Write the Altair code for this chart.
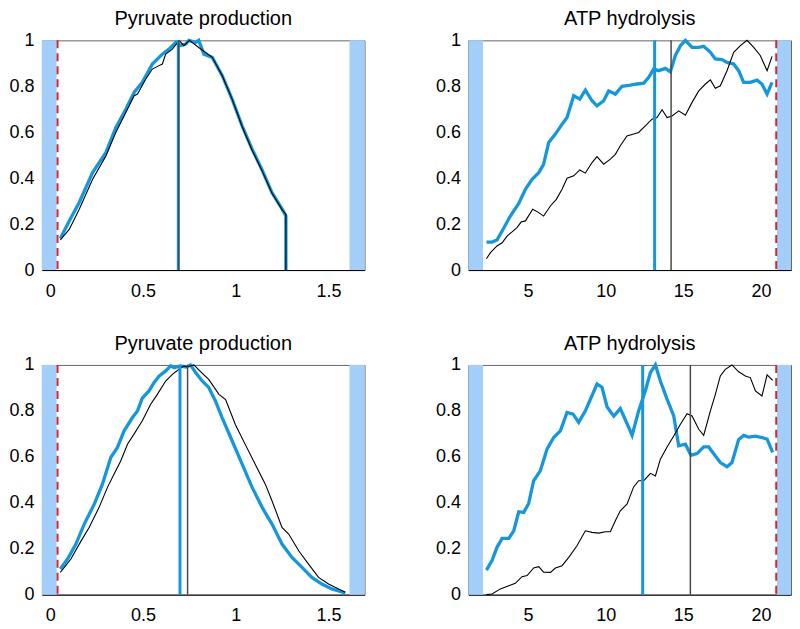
import altair as alt
import pandas as pd

FONT = "Liberation Sans"
BLUE = "#1697dc"
BAND = "#a3cef9"
RED = "#d9262c"
DARK = "#4a4a4a"

# ---------------- Panel data ----------------
# Top-left: Pyruvate production
p1_blue_x = [0.054, 0.102, 0.156, 0.228, 0.30, 0.353, 0.407, 0.452, 0.496, 0.55, 0.604, 0.64, 0.676,
             0.70, 0.73, 0.747, 0.783, 0.80, 0.828, 0.873, 0.927, 0.98, 1.034, 1.088, 1.14, 1.195,
             1.25, 1.27, 1.27]
p1_blue_y = [0.137, 0.214, 0.294, 0.424, 0.512, 0.62, 0.70, 0.773, 0.817, 0.897, 0.94, 0.962, 0.991,
             0.977, 0.984, 1.0, 0.991, 1.0, 0.94, 0.926, 0.846, 0.744, 0.628, 0.526, 0.439, 0.337,
             0.265, 0.235, 0.0]
p1_black_x = [0.054, 0.102, 0.156, 0.228, 0.30, 0.353, 0.416, 0.452, 0.47, 0.514, 0.55, 0.586, 0.604,
              0.622, 0.658, 0.694, 0.72, 0.75, 0.80, 0.836, 0.873, 0.927, 0.98, 1.034, 1.088, 1.14,
              1.195, 1.25, 1.27, 1.27]
p1_black_y = [0.131, 0.177, 0.265, 0.395, 0.497, 0.599, 0.70, 0.759, 0.766, 0.831, 0.875, 0.89, 0.897,
              0.94, 0.962, 1.0, 0.977, 1.0, 0.969, 0.948, 0.926, 0.846, 0.744, 0.625, 0.522, 0.435,
              0.335, 0.262, 0.243, 0.0]
p1_vblue = 0.69
p1_vblack = 0.692

# Top-right: ATP hydrolysis
p2_blue_x = [2.32, 2.68, 3.0, 3.33, 3.86, 4.40, 4.83, 5.26, 5.69, 6.0, 6.33, 6.76, 7.19, 7.51, 7.94,
             8.33, 8.69, 9.12, 9.44, 9.87, 10.19, 10.62, 11.05, 11.59, 12.02, 12.45, 12.77, 13.09,
             13.41, 13.84, 14.16, 14.48, 14.81, 15.13, 15.56, 15.99, 16.31, 16.74, 17.06, 17.49,
             17.81, 18.24, 18.56, 18.88, 19.31, 19.74, 20.06, 20.39, 20.71]
p2_blue_y = [0.122, 0.122, 0.131, 0.17, 0.235, 0.29, 0.352, 0.395, 0.424, 0.46, 0.555, 0.592, 0.635,
             0.664, 0.759, 0.744, 0.783, 0.737, 0.715, 0.737, 0.78, 0.766, 0.80, 0.805, 0.81, 0.814,
             0.839, 0.875, 0.868, 0.878, 0.863, 0.933, 0.977, 1.0, 0.969, 0.969, 0.974, 0.948, 0.919,
             0.916, 0.904, 0.897, 0.868, 0.817, 0.817, 0.827, 0.81, 0.766, 0.817]
p2_black_x = [2.32, 2.58, 3.0, 3.33, 3.65, 3.97, 4.29, 4.55, 4.83, 5.30, 5.69, 6.0, 6.44, 6.82, 7.19,
              7.51, 7.94, 8.33, 8.69, 9.12, 9.44, 9.87, 10.30, 10.62, 10.94, 11.37, 11.80, 12.12,
              12.55, 12.98, 13.30, 13.63, 13.95, 14.27, 14.70, 15.13, 15.56, 15.99, 16.42, 16.74,
              17.06, 17.38, 17.81, 18.24, 18.67, 19.10, 19.53, 19.96, 20.39, 20.71]
p2_black_y = [0.049, 0.076, 0.105, 0.119, 0.148, 0.166, 0.185, 0.209, 0.214, 0.265, 0.25, 0.235, 0.279,
              0.308, 0.352, 0.40, 0.41, 0.436, 0.422, 0.468, 0.494, 0.461, 0.483, 0.504, 0.541, 0.584,
              0.592, 0.599, 0.628, 0.657, 0.664, 0.698, 0.664, 0.671, 0.693, 0.674, 0.73, 0.78, 0.81,
              0.828, 0.791, 0.802, 0.868, 0.948, 0.977, 1.0, 0.969, 0.933, 0.868, 0.93]
p2_vblue = 13.15
p2_vblack = 14.21

# Bottom-left: Pyruvate production
p3_blue_x = [0.054, 0.093, 0.138, 0.183, 0.237, 0.281, 0.326, 0.362, 0.398, 0.443, 0.47, 0.496, 0.532,
             0.559, 0.586, 0.622, 0.649, 0.667, 0.703, 0.73, 0.756, 0.783, 0.819, 0.855, 0.89, 0.926,
             0.98, 1.034, 1.088, 1.142, 1.195, 1.249, 1.303, 1.357, 1.41, 1.464, 1.518, 1.59]
p3_blue_y = [0.112, 0.155, 0.22, 0.307, 0.394, 0.481, 0.597, 0.641, 0.713, 0.771, 0.80, 0.855, 0.887,
             0.923, 0.951, 0.974, 0.996, 0.988, 0.996, 0.991, 1.0, 0.967, 0.93, 0.901, 0.843, 0.771,
             0.67, 0.568, 0.467, 0.38, 0.307, 0.22, 0.162, 0.119, 0.075, 0.046, 0.025, 0.007]
p3_black_x = [0.054, 0.111, 0.156, 0.21, 0.263, 0.308, 0.344, 0.38, 0.416, 0.452, 0.496, 0.541, 0.577,
              0.622, 0.658, 0.694, 0.72, 0.738, 0.774, 0.81, 0.855, 0.909, 0.945, 0.998, 1.052, 1.106,
              1.159, 1.195, 1.249, 1.285, 1.339, 1.392, 1.446, 1.50, 1.554, 1.59]
p3_black_y = [0.097, 0.155, 0.22, 0.293, 0.38, 0.467, 0.525, 0.583, 0.655, 0.70, 0.757, 0.829, 0.872,
              0.93, 0.959, 0.981, 0.996, 0.991, 1.0, 0.971, 0.936, 0.872, 0.849, 0.74, 0.652, 0.565,
              0.481, 0.409, 0.293, 0.264, 0.191, 0.133, 0.075, 0.046, 0.025, 0.01]
p3_vblue = 0.699
p3_vblack = 0.74

# Bottom-right: ATP hydrolysis
p4_blue_x = [2.32, 2.68, 3.0, 3.33, 3.76, 4.08, 4.40, 4.72, 5.04, 5.36, 5.79, 6.22, 6.65, 7.08, 7.51,
             7.90, 8.26, 8.69, 9.12, 9.44, 9.76, 10.09, 10.52, 10.94, 11.37, 11.70, 12.12, 12.55,
             12.88, 13.20, 13.52, 13.95, 14.38, 14.70, 15.13, 15.49, 15.88, 16.31, 16.63, 17.06,
             17.38, 17.81, 18.13, 18.56, 18.88, 19.21, 19.64, 20.06, 20.39, 20.75]
p4_blue_y = [0.107, 0.148, 0.206, 0.245, 0.245, 0.278, 0.361, 0.358, 0.397, 0.496, 0.539, 0.633, 0.684,
             0.713, 0.793, 0.786, 0.75, 0.80, 0.867, 0.917, 0.903, 0.817, 0.777, 0.81, 0.745, 0.694,
             0.80, 0.887, 0.967, 1.0, 0.93, 0.851, 0.778, 0.648, 0.655, 0.607, 0.614, 0.643, 0.643,
             0.604, 0.575, 0.557, 0.575, 0.675, 0.693, 0.686, 0.69, 0.684, 0.677, 0.619]
p4_black_x = [2.32, 2.68, 3.22, 3.76, 4.18, 4.61, 4.94, 5.36, 5.69, 6.0, 6.44, 6.76, 7.19, 7.62, 8.15,
              8.69, 9.12, 9.55, 9.98, 10.30, 10.62, 10.94, 11.37, 11.80, 12.12, 12.45, 12.88, 13.20,
              13.52, 13.95, 14.38, 14.81, 15.24, 15.56, 15.99, 16.31, 16.74, 17.06, 17.38, 17.70,
              18.13, 18.56, 18.99, 19.31, 19.64, 20.06, 20.39, 20.75]
p4_black_y = [0.0, 0.003, 0.025, 0.039, 0.049, 0.078, 0.083, 0.116, 0.122, 0.098, 0.097, 0.116, 0.126,
              0.162, 0.213, 0.278, 0.271, 0.268, 0.274, 0.274, 0.322, 0.365, 0.394, 0.469, 0.496,
              0.496, 0.528, 0.517, 0.59, 0.643, 0.691, 0.742, 0.788, 0.778, 0.72, 0.694, 0.80, 0.872,
              0.952, 0.981, 1.0, 0.97, 0.952, 0.945, 0.887, 0.865, 0.957, 0.933]
p4_vblue = 12.38
p4_vblack = 15.45

# Shared axis settings
titles = ["Pyruvate production", "ATP hydrolysis"]
left_domain = [-0.045, 1.694]
left_ticks = [0, 0.5, 1, 1.5]
left_bands_start = [-0.045, 1.613]
left_bands_end = [0.034, 1.694]
left_red = 0.039
right_domain = [1.16, 21.93]
right_ticks = [5, 10, 15, 20]
right_bands_start = [1.16, 21.03]
right_bands_end = [2.10, 21.93]
right_red = 20.98
y_ticks = [0, 0.2, 0.4, 0.6, 0.8, 1]

W, H = 323, 230


def panel(title, bx, by, kx, ky, vblue, vblack, dom, ticks, bs, be, red):
    xs = alt.Scale(domain=dom, nice=False, zero=False)
    ys = alt.Scale(domain=[0, 1], nice=False, zero=False)
    xax = alt.Axis(values=ticks, format="~g", title=None)
    yax = alt.Axis(values=y_ticks, format="~g", title=None)

    blue_df = pd.DataFrame({"x": bx, "y": by, "i": range(len(bx))})
    black_df = pd.DataFrame({"x": kx, "y": ky, "i": range(len(kx))})
    band_df = pd.DataFrame({"x0": bs, "x1": be})
    red_df = pd.DataFrame({"x": [red]})
    vb_df = pd.DataFrame({"x": [vblue]})
    vk_df = pd.DataFrame({"x": [vblack]})

    bands = alt.Chart(band_df).mark_rect(color=BAND).encode(
        x=alt.X("x0:Q", scale=xs, axis=xax),
        x2="x1:Q",
        y=alt.value(0), y2=alt.value(H))
    redrule = alt.Chart(red_df).mark_rule(color=RED, strokeWidth=2, strokeDash=[8, 5]).encode(
        x=alt.X("x:Q", scale=xs, axis=xax))
    blue_line = alt.Chart(blue_df).mark_line(color=BLUE, strokeWidth=3.3).encode(
        x=alt.X("x:Q", scale=xs, axis=xax),
        y=alt.Y("y:Q", scale=ys, axis=yax),
        order="i:Q")
    black_line = alt.Chart(black_df).mark_line(color="black", strokeWidth=1.1).encode(
        x=alt.X("x:Q", scale=xs, axis=xax),
        y=alt.Y("y:Q", scale=ys, axis=yax),
        order="i:Q")
    vb = alt.Chart(vb_df).mark_rule(color=BLUE, strokeWidth=3).encode(
        x=alt.X("x:Q", scale=xs, axis=xax))
    vk = alt.Chart(vk_df).mark_rule(color=DARK, strokeWidth=1.5).encode(
        x=alt.X("x:Q", scale=xs, axis=xax))
    return alt.layer(bands, redrule, blue_line, black_line, vb, vk).properties(
        width=W, height=H,
        title=alt.TitleParams(title, fontSize=20, font=FONT, fontWeight="normal",
                              color="black", offset=2))


c1 = panel(titles[0], p1_blue_x, p1_blue_y, p1_black_x, p1_black_y, p1_vblue, p1_vblack,
           left_domain, left_ticks, left_bands_start, left_bands_end, left_red)
c2 = panel(titles[1], p2_blue_x, p2_blue_y, p2_black_x, p2_black_y, p2_vblue, p2_vblack,
           right_domain, right_ticks, right_bands_start, right_bands_end, right_red)
c3 = panel(titles[0], p3_blue_x, p3_blue_y, p3_black_x, p3_black_y, p3_vblue, p3_vblack,
           left_domain, left_ticks, left_bands_start, left_bands_end, left_red)
c4 = panel(titles[1], p4_blue_x, p4_blue_y, p4_black_x, p4_black_y, p4_vblue, p4_vblack,
           right_domain, right_ticks, right_bands_start, right_bands_end, right_red)

chart = alt.vconcat(
    alt.hconcat(c1, c2, spacing=69),
    alt.hconcat(c3, c4, spacing=69),
    spacing=32,
).properties(
    padding={"left": 0, "top": 0, "right": 0, "bottom": 0}
).configure_view(
    stroke="#666666", strokeWidth=1
).configure_axis(
    labelFont=FONT, labelFontSize=18, labelColor="black", ticks=False,
    labelPadding=8, grid=False, domainWidth=1, labelFlush=False
).configure_axisX(
    domainColor="black", labelPadding=12
).configure_axisY(
    domainColor="#666666"
)

chart.save("out.html", embed_options={"renderer": "svg", "actions": False})
